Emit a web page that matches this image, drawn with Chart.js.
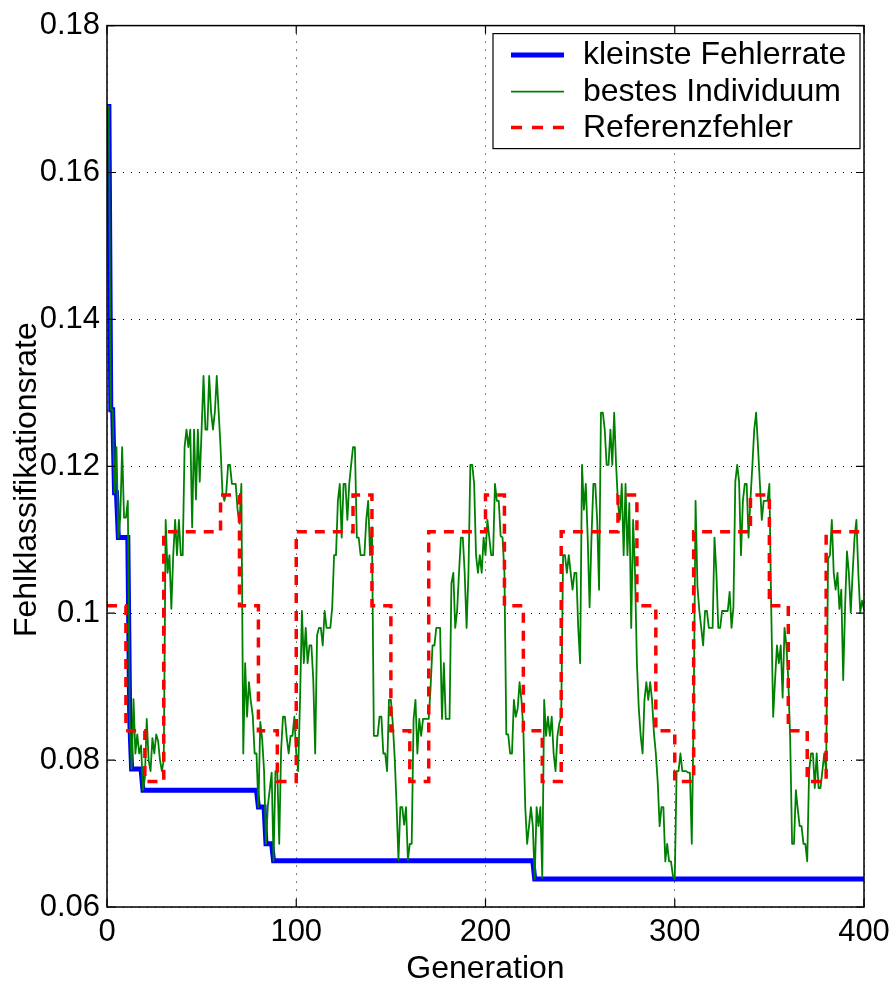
<!DOCTYPE html>
<html>
<head>
<meta charset="utf-8">
<script src="https://cdn.jsdelivr.net/npm/chart.js@4.4.1/dist/chart.umd.min.js"></script>
<style>
  html, body { margin: 0; padding: 0; background: #ffffff; }
  #wrap { width: 894px; height: 988px; }
</style>
</head>
<body>
<div id="wrap"><canvas id="c" width="894" height="988"></canvas></div>
<script>
// ---------------- data ----------------
const seriesNames = ['kleinste Fehlerrate', 'bestes Individuum', 'Referenzfehler'];
const xTitle = 'Generation';
const yTitle = 'Fehlklassifikationsrate';
const xTickLabels = ['0', '100', '200', '300', '400'];
const yTickLabels = ['0.06', '0.08', '0.1', '0.12', '0.14', '0.16', '0.18'];

// kleinste Fehlerrate (running best), generation / value pairs
const minGen = [0, 1, 2, 3, 4, 5, 6, 11, 12, 13, 18, 19, 79, 80, 83, 84, 87, 88, 225, 226, 400];
const minErr = [0.1690, 0.1690, 0.1277, 0.1277, 0.1164, 0.1164, 0.1103, 0.1103, 0.0856, 0.0788, 0.0788,
                0.0759, 0.0759, 0.0736, 0.0736, 0.0686, 0.0686, 0.0663, 0.0663, 0.0638, 0.0638];

// bestes Individuum, one value per generation 0..400
const bestErr = [
  0.1690,0.1690,0.1277,0.1277,0.1164,0.1226,0.1103,0.1130,0.1226,0.1130,  // 0
  0.1130,0.1153,0.0856,0.0788,0.0883,0.0809,0.0835,0.0809,0.0820,0.0759,  // 10
  0.0775,0.0856,0.0800,0.0785,0.0830,0.0809,0.0835,0.0826,0.0800,0.0785,  // 20
  0.0800,0.1127,0.1055,0.1079,0.1006,0.1079,0.1127,0.1079,0.1127,0.1079,  // 30
  0.1079,0.1226,0.1250,0.1226,0.1250,0.1117,0.1250,0.1155,0.1250,0.1179,  // 40
  0.1250,0.1323,0.1250,0.1250,0.1323,0.1274,0.1250,0.1274,0.1323,0.1274,  // 50
  0.1226,0.1164,0.1153,0.1164,0.1202,0.1202,0.1176,0.1176,0.1176,0.1141,  // 60
  0.1122,0.1176,0.0809,0.0932,0.0859,0.0906,0.0880,0.0861,0.0809,0.0809,  // 70
  0.0736,0.0852,0.0828,0.0785,0.0686,0.0738,0.0760,0.0783,0.0663,0.0785,  // 80
  0.0783,0.0686,0.0814,0.0859,0.0859,0.0830,0.0809,0.0833,0.0833,0.0859,  // 90
  0.0809,0.0785,0.0882,0.1003,0.0932,0.0980,0.0932,0.0956,0.0956,0.0909,  // 100
  0.0809,0.0970,0.0980,0.0980,0.0956,0.1003,0.0980,0.0980,0.0980,0.1008,  // 110
  0.1079,0.1079,0.1153,0.1176,0.1103,0.1176,0.1176,0.1127,0.1176,0.1202,  // 120
  0.1226,0.1226,0.1103,0.1103,0.1079,0.1079,0.1079,0.1127,0.1153,0.1079,  // 130
  0.1117,0.0833,0.0833,0.0833,0.0859,0.0859,0.0809,0.0809,0.0785,0.0882,  // 140
  0.0882,0.0850,0.0804,0.0740,0.0664,0.0736,0.0736,0.0712,0.0736,0.0664,  // 150
  0.0686,0.0686,0.0856,0.0882,0.0809,0.0856,0.0833,0.0856,0.0856,0.0856,  // 160
  0.0856,0.0900,0.0956,0.0956,0.0980,0.0980,0.0980,0.0856,0.0932,0.0856,  // 170
  0.0856,0.0856,0.1041,0.1055,0.0980,0.1003,0.1055,0.1103,0.1103,0.1055,  // 180
  0.0980,0.1055,0.1202,0.1202,0.1176,0.1079,0.1055,0.1079,0.1055,0.1103,  // 190
  0.1079,0.1127,0.1103,0.1079,0.1079,0.1176,0.1153,0.1153,0.1105,0.1103,  // 200
  0.1055,0.0835,0.0835,0.0809,0.0809,0.0882,0.0859,0.0870,0.0906,0.0882,  // 210
  0.0842,0.0736,0.0686,0.0710,0.0736,0.0710,0.0638,0.0736,0.0710,0.0736,  // 220
  0.0640,0.0882,0.0833,0.0859,0.0833,0.0859,0.0809,0.0785,0.0833,0.0850,  // 230
  0.0859,0.1079,0.1079,0.1055,0.1079,0.1055,0.1032,0.1055,0.1055,0.0980,  // 240
  0.0932,0.1202,0.1141,0.1176,0.1103,0.1008,0.1103,0.1176,0.1176,0.1127,  // 250
  0.1032,0.1273,0.1273,0.1250,0.1202,0.1202,0.1250,0.1202,0.1273,0.1202,  // 260
  0.1150,0.1127,0.1176,0.1079,0.1176,0.1079,0.1150,0.0980,0.1127,0.1055,  // 270
  0.0932,0.0870,0.0833,0.0809,0.0882,0.0906,0.0882,0.0906,0.0882,0.0837,  // 280
  0.0809,0.0770,0.0710,0.0736,0.0736,0.0662,0.0686,0.0662,0.0662,0.0643,  // 290
  0.0638,0.0785,0.0785,0.0809,0.0785,0.0785,0.0785,0.0783,0.0783,0.0686,  // 300
  0.0866,0.1153,0.1036,0.1003,0.0980,0.0956,0.1003,0.1003,0.0980,0.0980,  // 310
  0.0980,0.1103,0.1055,0.0980,0.0980,0.1003,0.1003,0.1003,0.1003,0.1029,  // 320
  0.0980,0.1008,0.1179,0.1202,0.1179,0.1079,0.1153,0.1176,0.1176,0.1103,  // 330
  0.1155,0.1200,0.1250,0.1273,0.1226,0.1176,0.1127,0.1153,0.1153,0.1153,  // 340
  0.1176,0.1003,0.0859,0.0909,0.0956,0.0932,0.0956,0.0885,0.0980,0.0956,  // 350
  0.0909,0.0828,0.0686,0.0686,0.0759,0.0733,0.0710,0.0710,0.0686,0.0686,  // 360
  0.0662,0.0785,0.0809,0.0809,0.0762,0.0809,0.0762,0.0762,0.0785,0.0809,  // 370
  0.0785,0.1074,0.1079,0.1127,0.1055,0.1032,0.1055,0.1006,0.1032,0.0909,  // 380
  0.1008,0.1084,0.1055,0.1001,0.1055,0.1103,0.1127,0.1055,0.1001,0.1017,  // 390
  0.1005                                                                  // 400
];

// Referenzfehler (step function), value holds from this generation on
const refGen = [0, 10, 20, 30, 60, 70, 80, 90, 100, 130, 140, 150, 160, 170, 200, 210, 220, 230, 240,
                270, 280, 290, 300, 310, 340, 350, 360, 370, 380, 400];
const refErr = [0.1010, 0.0840, 0.0771, 0.1111, 0.1161, 0.1010, 0.0840, 0.0771, 0.1111, 0.1161,
                0.1010, 0.0840, 0.0771, 0.1111, 0.1161, 0.1010, 0.0840, 0.0771, 0.1111, 0.1161,
                0.1010, 0.0840, 0.0771, 0.1111, 0.1161, 0.1010, 0.0840, 0.0771, 0.1111, 0.1111];

// ---------------- chart ----------------
const FONT = '"Liberation Sans", Arial, Helvetica, sans-serif';
const FS = 31;      // tick labels
const FS_T = 32;    // axis titles and legend
Chart.defaults.font.family = FONT;
Chart.defaults.font.size = FS;
Chart.defaults.color = '#000000';

const pairs = (xs, ys) => xs.map((x, i) => ({ x: x, y: ys[i] }));

const colors = ['#0000ff', '#008000', '#ff0000'];
const widths = [5, 1.8, 3.5];
const dashes = [[], [], [10, 8]];

const frameLegend = {
  id: 'frameLegend',
  afterDatasetsDraw(chart) {
    const { ctx, chartArea: { left, right, top, bottom }, scales: { x, y } } = chart;
    ctx.save();
    // box
    ctx.strokeStyle = '#000000';
    ctx.lineWidth = 1.5;
    ctx.setLineDash([]);
    ctx.strokeRect(left, top, right - left, bottom - top);
    // inward tick marks on all sides
    const tl = 8;
    ctx.lineWidth = 1.2;
    ctx.beginPath();
    x.ticks.forEach(t => {
      const px = x.getPixelForValue(t.value);
      ctx.moveTo(px, bottom); ctx.lineTo(px, bottom - tl);
      ctx.moveTo(px, top); ctx.lineTo(px, top + tl);
    });
    y.ticks.forEach(t => {
      const py = y.getPixelForValue(t.value);
      ctx.moveTo(left, py); ctx.lineTo(left + tl, py);
      ctx.moveTo(right, py); ctx.lineTo(right - tl, py);
    });
    ctx.stroke();

    // legend
    const bw = 367, bh = 115;
    const bx = right - 4 - bw, by = top + 8;
    ctx.fillStyle = '#ffffff';
    ctx.fillRect(bx, by, bw, bh);
    ctx.strokeStyle = '#000000';
    ctx.lineWidth = 1.2;
    ctx.strokeRect(bx, by, bw, bh);
    const rows = [21.5, 58, 94];
    const legendDash = [[], [], [11, 10]];
    chart.data.datasets.forEach((ds, i) => {
      const ry = by + rows[i];
      ctx.beginPath();
      ctx.strokeStyle = ds.borderColor;
      ctx.lineWidth = ds.borderWidth;
      ctx.setLineDash(legendDash[i]);
      ctx.lineCap = 'butt';
      ctx.moveTo(bx + 18, ry);
      ctx.lineTo(bx + 71, ry);
      ctx.stroke();
      ctx.setLineDash([]);
      ctx.fillStyle = '#000000';
      ctx.font = FS_T + 'px ' + FONT;
      ctx.textAlign = 'left';
      ctx.textBaseline = 'middle';
      ctx.fillText(ds.label, bx + 90, ry + 0.5);
    });
    ctx.restore();
  }
};

new Chart(document.getElementById('c'), {
  type: 'line',
  data: {
    datasets: [
      {
        label: seriesNames[0],
        data: pairs(minGen, minErr),
        borderColor: colors[0], borderWidth: widths[0], borderDash: dashes[0],
        pointRadius: 0, tension: 0, fill: false, order: 3,
        borderJoinStyle: 'miter'
      },
      {
        label: seriesNames[1],
        data: bestErr.map((v, g) => ({ x: g, y: v })),
        borderColor: colors[1], borderWidth: widths[1], borderDash: dashes[1],
        pointRadius: 0, tension: 0, fill: false, order: 2,
        borderJoinStyle: 'round'
      },
      {
        label: seriesNames[2],
        data: pairs(refGen, refErr),
        borderColor: colors[2], borderWidth: widths[2], borderDash: dashes[2],
        pointRadius: 0, tension: 0, fill: false, order: 1,
        stepped: true, borderCapStyle: 'butt'
      }
    ]
  },
  options: {
    responsive: false,
    animation: false,
    devicePixelRatio: 1,
    layout: { padding: { top: 20, right: 30, left: 0, bottom: 0 } },
    plugins: { legend: { display: false }, tooltip: { enabled: false } },
    scales: {
      x: {
        type: 'linear', min: 0, max: 400,
        ticks: {
          stepSize: 100, padding: 7, maxRotation: 0, autoSkip: false,
          font: { size: FS, family: FONT }, color: '#000000',
          callback: (v, i) => xTickLabels[i]
        },
        grid: { color: '#000000', lineWidth: 1, drawTicks: false, tickLength: 0 },
        border: { display: false, dash: [1, 7] },
        title: { display: true, text: xTitle, font: { size: FS_T, family: FONT }, color: '#000000', padding: { top: 0, bottom: 0 } },
        afterFit: s => { s.height = 81; s.paddingRight = 0; s.paddingLeft = 0; }
      },
      y: {
        type: 'linear', min: 0.06, max: 0.18,
        ticks: {
          stepSize: 0.02, padding: 7, autoSkip: false,
          font: { size: FS, family: FONT }, color: '#000000',
          callback: (v, i) => yTickLabels[i]
        },
        grid: { color: '#000000', lineWidth: 1, drawTicks: false, tickLength: 0 },
        border: { display: false, dash: [1, 7] },
        title: { display: true, text: yTitle + '\u00a0\u00a0\u00a0', font: { size: FS_T, family: FONT }, color: '#000000', padding: { top: 8, bottom: 0 } },
        afterFit: s => { s.width = 107; }
      }
    }
  },
  plugins: [frameLegend]
});
</script>
</body>
</html>
